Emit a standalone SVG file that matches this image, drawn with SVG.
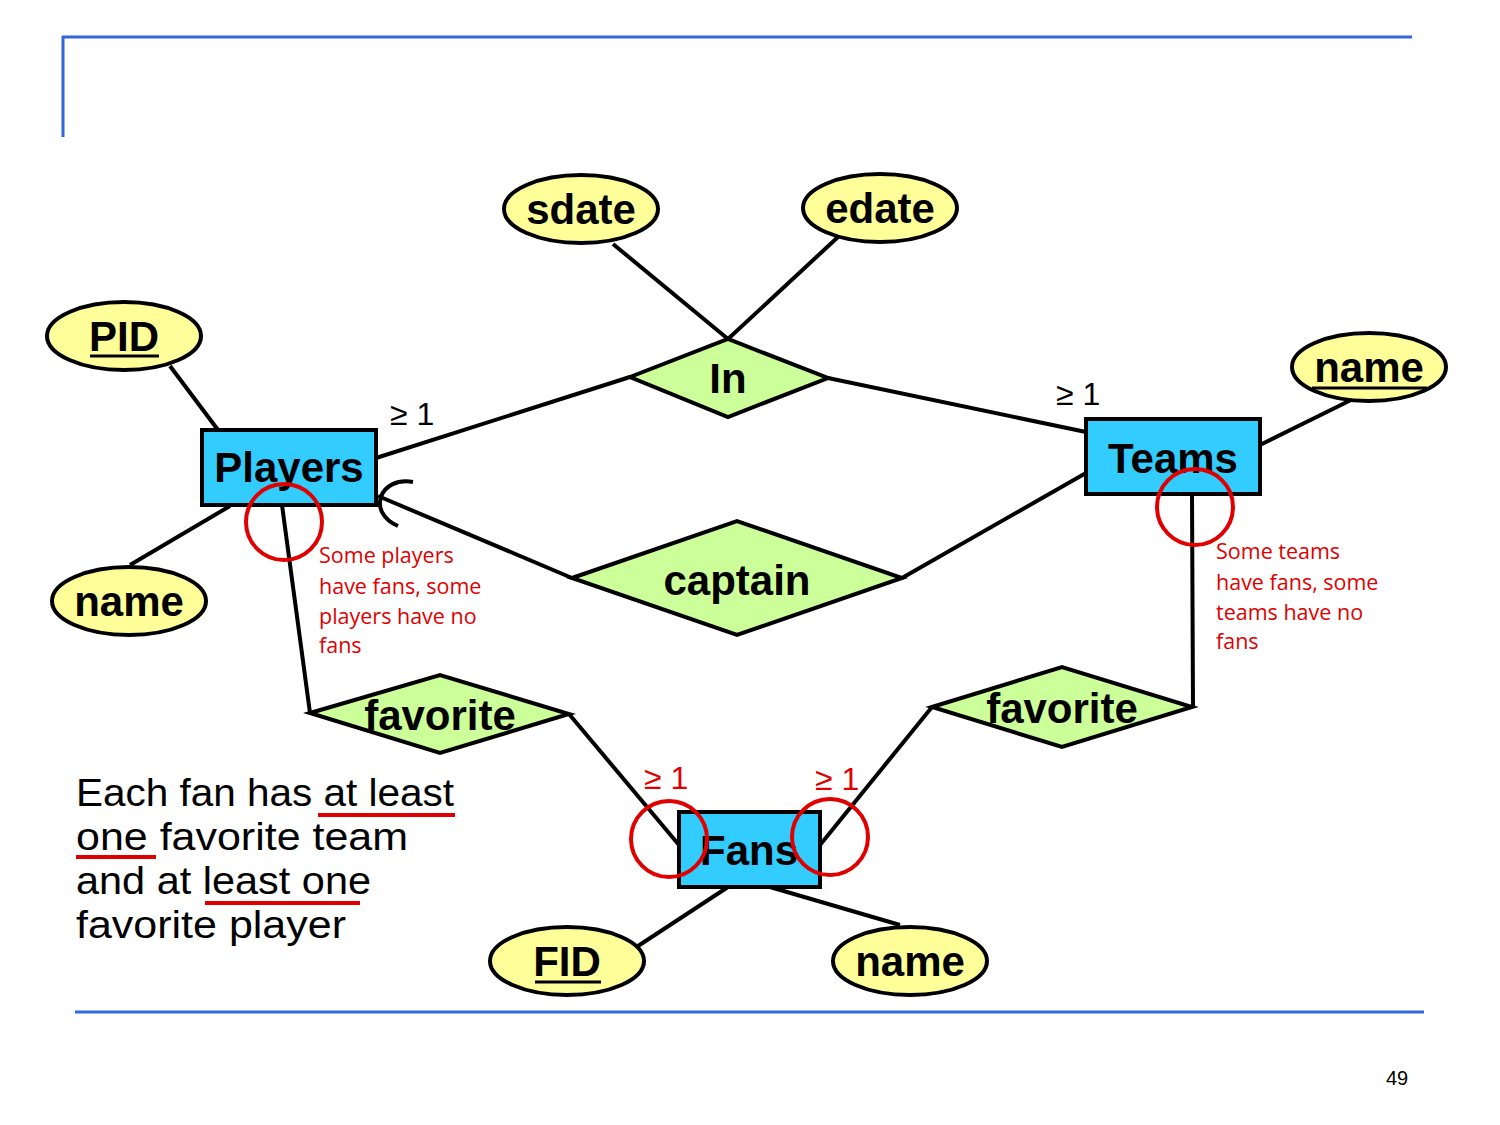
<svg xmlns="http://www.w3.org/2000/svg" width="1500" height="1125" viewBox="0 0 1500 1125">
<style>
.attr{fill:#ffff99;stroke:#000;stroke-width:4}
.ent{fill:#33ccff;stroke:#000;stroke-width:4}
.rel{fill:#ccff99;stroke:#000;stroke-width:4}
.lbl{font-family:"Liberation Sans",Arial,sans-serif;font-weight:bold;font-size:42px;fill:#000;text-anchor:middle}
.ln{stroke:#000;stroke-width:4;fill:none}
.rc{stroke:#e00000;stroke-width:4;fill:none}
.card{font-family:"Liberation Sans",Arial,sans-serif;font-size:32px;fill:#000}
.rcard{font-family:"Liberation Sans",Arial,sans-serif;font-size:32px;fill:#e00000}
.note{font-family:"Open Sans","Liberation Sans",sans-serif;font-size:21.5px;fill:#e00000}
.body{font-family:"Liberation Sans",Arial,sans-serif;font-size:38px;fill:#000}
.ul{stroke:#e00000;stroke-width:4}
</style>
<rect width="1500" height="1125" fill="#fff"/>
<g id="frame">
<line x1="62" y1="37" x2="1412" y2="37" stroke="#3366dd" stroke-width="3"/>
<line x1="63" y1="36" x2="63" y2="137" stroke="#3366dd" stroke-width="3"/>
<line x1="75" y1="1012" x2="1424" y2="1012" stroke="#3366dd" stroke-width="3"/>
<text x="1397" y="1085" font-family="Liberation Sans,Arial,sans-serif" font-size="20" text-anchor="middle">49</text>
</g>
<g id="connectors">
<line class="ln" x1="613" y1="244" x2="728" y2="339"/>
<line class="ln" x1="838" y1="237" x2="728" y2="339"/>
<line class="ln" x1="170" y1="366" x2="218" y2="430"/>
<line class="ln" x1="130" y1="565" x2="230" y2="506"/>
<line class="ln" x1="376" y1="458" x2="630" y2="377"/>
<line class="ln" x1="828" y1="378" x2="1086" y2="432"/>
<line class="ln" x1="378" y1="496" x2="572" y2="578"/>
<line class="ln" x1="902" y1="578" x2="1086" y2="473"/>
<line class="ln" x1="1260" y1="445" x2="1351" y2="400"/>
<line class="ln" x1="282" y1="505" x2="310" y2="713"/>
<line class="ln" x1="569" y1="714" x2="679" y2="845"/>
<line class="ln" x1="1192" y1="494" x2="1193" y2="707"/>
<line class="ln" x1="932" y1="707" x2="820" y2="845"/>
<line class="ln" x1="728" y1="887" x2="638" y2="946"/>
<line class="ln" x1="770" y1="887" x2="900" y2="925"/>
<path class="ln" d="M413,482 C380,476 366,512 398,526"/>
</g>
<g id="sdate"><ellipse class="attr" cx="581" cy="209" rx="77" ry="34"/><text class="lbl" x="581" y="224">sdate</text></g>
<g id="edate"><ellipse class="attr" cx="880" cy="208" rx="77" ry="34"/><text class="lbl" x="880" y="223">edate</text></g>
<g id="PID"><ellipse class="attr" cx="124" cy="336" rx="77" ry="34"/><text class="lbl" x="124" y="351">PID</text><line x1="90" y1="356" x2="159" y2="356" stroke="#000" stroke-width="3"/></g>
<g id="teams_name"><ellipse class="attr" cx="1369" cy="367" rx="77" ry="34"/><text class="lbl" x="1369" y="382">name</text><line x1="1312" y1="388" x2="1427" y2="388" stroke="#000" stroke-width="3"/></g>
<g id="players_name"><ellipse class="attr" cx="129" cy="601" rx="77" ry="34"/><text class="lbl" x="129" y="616">name</text></g>
<g id="FID"><ellipse class="attr" cx="567" cy="961" rx="77" ry="34"/><text class="lbl" x="567" y="976">FID</text><line x1="535" y1="982" x2="601" y2="982" stroke="#000" stroke-width="3"/></g>
<g id="fans_name"><ellipse class="attr" cx="910" cy="961" rx="77" ry="34"/><text class="lbl" x="910" y="976">name</text></g>
<g id="Players"><rect class="ent" x="202" y="430" width="174" height="75"/><text class="lbl" x="289" y="482">Players</text></g>
<g id="Teams"><rect class="ent" x="1086" y="419" width="174" height="75"/><text class="lbl" x="1173" y="473">Teams</text></g>
<g id="Fans"><rect class="ent" x="679" y="812" width="141" height="75"/><text class="lbl" x="749" y="865">Fans</text></g>
<g id="In"><polygon class="rel" points="630,377 728,339 828,378 728,417"/><text class="lbl" x="728" y="393">In</text></g>
<g id="captain"><polygon class="rel" points="572,578 737,521 902,578 737,635"/><text class="lbl" x="737" y="595">captain</text></g>
<g id="favorite_players"><polygon class="rel" points="310,713 440,675 569,714 440,753"/><text class="lbl" x="440" y="730">favorite</text></g>
<g id="favorite_teams"><polygon class="rel" points="932,707 1062,667 1192,707 1062,747"/><text class="lbl" x="1062" y="723">favorite</text></g>
<g id="annotations">
<text class="card" x="390" y="425">≥ 1</text>
<text class="card" x="1056" y="405">≥ 1</text>
<text class="rcard" x="644" y="789">≥ 1</text>
<text class="rcard" x="815" y="790">≥ 1</text>
<circle class="rc" cx="284" cy="522" r="38"/>
<circle class="rc" cx="1195" cy="507" r="38"/>
<circle class="rc" cx="669" cy="839" r="38"/>
<circle class="rc" cx="830" cy="837" r="38"/>
<text class="note"><tspan x="319" y="563">Some players</tspan><tspan x="319" y="594">have fans, some</tspan><tspan x="319" y="624">players have no</tspan><tspan x="319" y="653">fans</tspan></text>
<text class="note"><tspan x="1216" y="559">Some teams</tspan><tspan x="1216" y="590">have fans, some</tspan><tspan x="1216" y="620">teams have no</tspan><tspan x="1216" y="649">fans</tspan></text>
<text class="body" x="76" y="806" textLength="378" lengthAdjust="spacingAndGlyphs">Each fan has at least</text>
<text class="body" x="76" y="850" textLength="332" lengthAdjust="spacingAndGlyphs">one favorite team</text>
<text class="body" x="76" y="894" textLength="295" lengthAdjust="spacingAndGlyphs">and at least one</text>
<text class="body" x="76" y="938" textLength="270" lengthAdjust="spacingAndGlyphs">favorite player</text>
<line class="ul" x1="318" y1="815" x2="455" y2="815"/>
<line class="ul" x1="76" y1="857" x2="156" y2="857"/>
<line class="ul" x1="205" y1="903" x2="360" y2="903"/>
</g>
</svg>
